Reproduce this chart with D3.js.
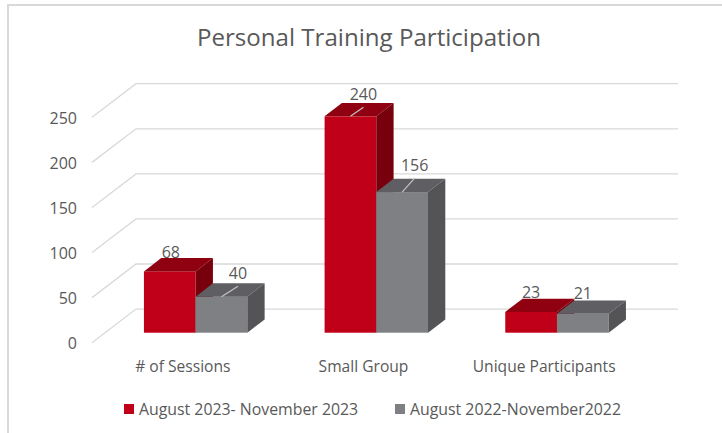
<!DOCTYPE html>
<html>
<head>
<meta charset="utf-8">
<script src="https://cdn.jsdelivr.net/npm/d3@7/dist/d3.min.js"></script>
<style>
html,body{margin:0;padding:0;background:#fff;overflow:hidden;}
svg{display:block;}
text{font-family:"Open Sans",sans-serif;fill:#595959;}
</style>
</head>
<body>
<svg id="chart" width="722" height="433"></svg>
<script>
var categories=["# of Sessions","Small Group","Unique Participants"];
var seriesNames=["August 2023- November 2023","August 2022-November2022"];
var recent=[68,240,23];
var previous=[40,156,21];
var yTicks=[0,50,100,150,200,250];

var svg=d3.select("#chart");

//front edge of the floor, the back wall is shifted by wall
var wall={dx:44,dy:-33.6};
var depth={dx:17.3,dy:-13.3};			//bar side
var inset={dx:13.3,dy:-10};				//floor to bar front
var x0=d3.scaleBand().domain(categories).range([92,634]);
var x1=d3.scaleBand().domain([0,1]).range([0,103.4]);
var groupPad=(x0.bandwidth()-103.4)/2;
var y=d3.scaleLinear().domain([0,250]).range([342.7,117.3]);

var colors=[
	{front:"#c00018",top:"#8f0010",side:"#78000c"},
	{front:"#7f8083",top:"#5f5f63",side:"#545456"}
];
//manual label moves, [dx,dy] from top centre of bar
var labelMoves=[
	[[1,-19],[16.5,-23.5]],
	[[13,-22],[12.5,-27]],
	[[0,-20],[0,-20]]
];
var leaders=[
	[false,true],
	[true,true],
	[false,false]
];

function barLeft(i,s){
	return x0(categories[i])+groupPad+x1(s)+inset.dx;
}

//frame
svg.append("path")
	.attr("d","M8,433V5H722")
	.attr("fill","none")
	.attr("stroke","#d9d9d9")
	.attr("stroke-width",2);

//title
svg.append("text")
	.attr("x",369)
	.attr("y",46)
	.attr("text-anchor","middle")
	.style("font-size","24.1px")
	.text("Personal Training Participation");

//gridlines
svg.append("g").selectAll("path")
	.data(yTicks)
	.enter().append("path")
	.attr("d",function(d){
		var yy=y(d);
		return "M92,"+yy+"L"+(92+wall.dx)+","+(yy+wall.dy)+"H"+(634+wall.dx);
	})
	.attr("fill","none")
	.attr("stroke","#d9d9d9")
	.attr("stroke-width",1.3);

//y axis
var yAxis=d3.axisLeft(y).tickValues(yTicks).tickSize(0).tickPadding(0);
svg.append("g")
	.attr("transform","translate(77,1)")
	.call(yAxis)
	.call(function(g){g.select(".domain").remove();})
	.selectAll("text")
	.style("font-size","16px")
	.style("font-family",'"Open Sans",sans-serif')
	.style("fill","#595959");

//category axis
var xAxis=d3.axisBottom(x0).tickSize(0).tickPadding(0);
svg.append("g")
	.attr("transform","translate(0.5,361)")
	.call(xAxis)
	.call(function(g){g.select(".domain").remove();})
	.selectAll("text")
	.attr("dy","0.71em")
	.style("font-size","15.6px")
	.style("font-family",'"Open Sans",sans-serif')
	.style("fill","#595959");

//bars, older series last so it sits over the side of the first
[recent,previous].forEach(function(values,s){
	var g=svg.append("g").attr("class","series"+s);
	var bars=g.selectAll("g").data(values).enter().append("g");
	function left(d,i){return barLeft(i,s);}
	function top(d){return y(d)+inset.dy;}
	var base=y(0)+inset.dy;
	var w=x1.bandwidth();

	bars.append("rect")
		.attr("x",left)
		.attr("y",top)
		.attr("width",w)
		.attr("height",function(d){return base-top(d);})
		.attr("fill",colors[s].front);
	bars.append("path")
		.attr("d",function(d,i){
			var a=left(d,i),b=top(d);
			return "M"+a+","+b+"l"+depth.dx+","+depth.dy+"h"+w+"l"+(-depth.dx)+","+(-depth.dy)+"z";
		})
		.attr("fill",colors[s].top);
	bars.append("path")
		.attr("d",function(d,i){
			var a=left(d,i)+w,b=top(d);
			return "M"+a+","+b+"l"+depth.dx+","+depth.dy+"V"+(base+depth.dy)+"L"+a+","+base+"z";
		})
		.attr("fill",colors[s].side);
});

//data labels and their leader lines
[recent,previous].forEach(function(values,s){
	values.forEach(function(d,i){
		var cx=barLeft(i,s)+x1.bandwidth()/2;
		var top=y(d)+inset.dy;
		var move=labelMoves[i][s];
		svg.append("text")
			.attr("x",cx+move[0])
			.attr("y",top+move[1])
			.attr("dy","0.35em")
			.attr("text-anchor","middle")
			.style("font-size","16px")
			.text(d);
		if(leaders[i][s]){
			svg.append("line")
				.attr("x1",cx)
				.attr("y1",top)
				.attr("x2",cx+move[0])
				.attr("y2",top+move[1]+13)
				.attr("stroke","#c4c4c4")
				.attr("stroke-width",1.2);
		}
	});
});

//legend
var legendX=[124,395];
seriesNames.forEach(function(name,s){
	svg.append("rect")
		.attr("x",legendX[s])
		.attr("y",404)
		.attr("width",10)
		.attr("height",10)
		.attr("fill",colors[s].front);
	svg.append("text")
		.attr("x",legendX[s]+15)
		.attr("y",409)
		.attr("dy","0.35em")
		.style("font-size","15.85px")
		.text(name);
});
</script>
</body>
</html>
